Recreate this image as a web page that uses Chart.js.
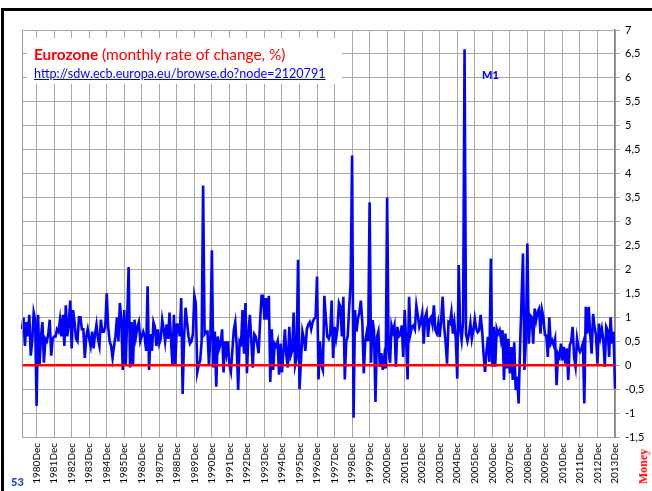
<!DOCTYPE html>
<html>
<head>
<meta charset="utf-8">
<script src="https://cdn.jsdelivr.net/npm/chart.js@4/dist/chart.umd.min.js"></script>
<style>
  html, body { margin: 0; padding: 0; background: #fff; }
  #wrap { position: relative; width: 652px; height: 491px; overflow: hidden; }
  #c { position: absolute; left: 0; top: 0; }
  #frameTop { position: absolute; left: 1px; top: 8px; width: 660px; height: 3px; background: #000; }
  #frameLeft { position: absolute; left: 1px; top: 8px; width: 3px; height: 500px; background: #000; }
  #titlebox { position: absolute; left: 27px; top: 38px; width: 315px; height: 46px; background: #fff; }
  #t1 { position: absolute; left: 7px; top: 7px; font-family: Lato, "Open Sans", sans-serif; font-size: 15.4px; color: #ff0000; white-space: nowrap; }
  #t1 b { font-weight: 700; }
  #t2 { position: absolute; left: 7px; top: 28px; font-family: Lato, "Open Sans", sans-serif; font-size: 12.6px; color: #0000ff; text-decoration: underline; white-space: nowrap; }
  #m1 { position: absolute; left: 482px; top: 68px; font-family: Lato, sans-serif; font-weight: 900; font-size: 11px; color: #0000ff; }
  #n53 { position: absolute; left: 11px; top: 475px; font-family: Lato, sans-serif; font-weight: 900; font-size: 11px; color: #1f3fbf; }
  #money { position: absolute; left: 626px; top: 459px; font-family: "Liberation Serif", serif; font-weight: 700; font-size: 12px; color: #ff0000; transform: rotate(-90deg); transform-origin: center center; white-space: nowrap; }
</style>
</head>
<body>
<div id="wrap">
  <canvas id="c" width="652" height="491"></canvas>
  <div id="titlebox">
    <div id="t1"><b>Eurozone</b> (monthly rate of change, %)</div>
    <div id="t2">http://sdw.ecb.europa.eu/browse.do?node=2120791</div>
  </div>
  <div id="m1">M1</div>
  <div id="n53">53</div>
  <div id="money">Money</div>
  <div id="frameTop"></div>
  <div id="frameLeft"></div>
</div>
<script>
// Monthly rate of change of M1 (%), Eurozone. 1980 starts in February.
const y1980 = [0.75, 1.0, 0.4, 0.9, 0.6, 1.05, 0.2, 0.5, 1.1, 0.95, -0.85];
const y1981 = [1.05, 0.0, 0.6, 0.9, 0.05, 0.55, 0.5, 0.65, 0.95, 0.2, 0.55, 0.6];
const y1982 = [0.6, 0.75, 0.7, 0.95, 0.6, 1.05, 0.4, 1.25, 0.6, 0.85, 1.35, 0.35];
const y1983 = [1.15, 0.9, 0.55, 0.5, 1.0, 1.0, 0.75, 0.75, 0.15, 0.6, 0.75, 0.55];
const y1984 = [0.4, 0.7, 0.35, 0.65, 0.85, 0.55, 0.4, 0.95, 0.7, 0.7, 0.8, 1.5];
const y1985 = [0.8, 0.5, 0.4, 0.15, 0.4, 0.6, 1.0, 0.5, 1.3, 0.95, -0.1, 1.15];
const y1986 = [0.0, 0.95, 2.05, -0.05, 0.9, 0.0, 0.95, 0.6, 0.8, 0.9, 0.5, 0.6];
const y1987 = [0.7, 0.6, 0.3, 1.65, -0.1, 0.65, 0.3, 0.9, 0.8, 0.4, 0.75, 0.45];
const y1988 = [0.55, 0.95, 0.75, 0.5, 0.85, 0.55, 1.1, 0.55, 0.0, 1.05, 0.0, 0.85];
const y1989 = [0.85, 0.6, 1.4, -0.6, 0.6, 1.2, 0.9, 0.6, 0.45, 0.5, 0.65, 1.45];
const y1990 = [1.3, -0.15, 0.0, 0.1, 0.5, 3.75, 0.65, 0.7, 0.7, 0.0, 0.6, 2.4];
const y1991 = [-0.05, 0.7, -0.45, 0.6, 0.35, 0.45, 0.75, -0.15, 0.5, 0.25, 0.5, 0.0];
const y1992 = [-0.14, 0.3, 0.73, 0.9, 0.4, -0.52, 0.5, 0.45, 1.15, 0.24, 1.3, -0.17];
const y1993 = [0.65, 1.05, 0.5, -0.05, 0.65, 0.6, 0.45, 0.25, 0.9, 1.45, 1.45, 0.95];
const y1994 = [1.4, 0.95, 1.45, -0.35, 0.75, -0.1, 0.45, 0.4, 0.5, -0.2, 0.45, -0.15];
const y1995 = [0.3, 0.75, 0.2, -0.05, 0.8, 0.2, 0.3, 1.1, 0.0, 0.15, 2.2, -0.5];
const y1996 = [0.1, 0.7, 0.55, 0.3, 0.75, 0.85, 0.9, 0.75, 0.9, 0.97, 1.0, 1.85];
const y1997 = [-0.3, 0.5, 0.0, -0.1, 1.45, 1.0, 0.6, 0.55, 0.65, 1.35, 0.15, 0.8];
const y1998 = [0.55, 0.77, 1.3, 1.22, 0.6, 1.43, -0.3, 0.5, 0.6, 1.2, 1.7, 4.38];
const y1999 = [-1.1, 1.15, 0.7, 0.97, 1.1, 1.35, 0.9, -0.17, 0.5, 0.68, 0.5, 3.4];
const y2000 = [0.05, 0.94, 0.73, -0.77, 0.59, 0.7, -0.03, 0.25, -0.1, 0.17, -0.07, 3.5];
const y2001 = [0.3, 0.05, 0.83, 0.7, 0.83, -0.03, 0.8, 0.6, 0.63, 0.83, 0.17, 1.15];
const y2002 = [0.52, -0.3, 1.43, 0.66, 0.8, 0.83, 0.75, 1.25, 1.04, 0.8, 0.9, 1.08];
const y2003 = [0.45, 1.0, 1.1, 0.59, 0.95, 1.0, 0.85, 1.25, 0.73, 0.66, 0.87, 0.59];
const y2004 = [0.94, 1.43, 0.8, 0.5, 0.03, 0.9, 0.87, 1.1, 0.66, 0.9, 0.55, -0.28];
const y2005 = [2.09, 0.75, 0.52, 0.9, 6.6, 0.65, 0.5, 0.65, 0.88, 0.55, 0.73, 0.97];
const y2006 = [0.76, 0.69, 0.73, 1.05, 0.73, 0.24, -0.14, 0.28, 0.59, 0.07, 2.23, -0.03];
const y2007 = [0.8, -0.03, 0.76, 0.66, 0.73, 0.52, 0.73, -0.31, 0.66, -0.07, 0.55, -0.17];
const y2008 = [0.38, -0.31, 0.48, -0.52, -0.24, -0.8, 0.38, 1.35, 2.33, -0.1, 0.52, 2.54];
const y2009 = [0.45, 1.04, 1.0, 0.45, 1.18, 0.94, 1.11, 1.18, 0.66, 1.15, 1.0, 0.63];
const y2010 = [0.62, 0.17, 1.0, 0.45, 0.52, 0.42, 0.55, -0.42, 0.24, 0.17, 0.45, 0.1];
const y2011 = [0.38, 0.03, 0.35, -0.31, 0.42, 0.49, 0.8, 0.17, -0.03, 0.55, 0.35, 0.28];
const y2012 = [0.35, 0.45, -0.8, 1.22, 0.66, 1.22, 0.66, 0.24, 1.07, 0.8, 0.62, 0.03];
const y2013 = [0.87, 0.59, 0.76, 0.52, -0.03, 0.8, 0.73, 0.17, 1.0, 0.45, 0.7, -0.49];

const monthNames = ['Jan','Feb','Mar','Apr','May','Jun','Jul','Aug','Sep','Oct','Nov','Dec'];
const years = [1980,1981,1982,1983,1984,1985,1986,1987,1988,1989,1990,1991,1992,1993,1994,1995,1996,
               1997,1998,1999,2000,2001,2002,2003,2004,2005,2006,2007,2008,2009,2010,2011,2012,2013];
const yearValues = [y1980,y1981,y1982,y1983,y1984,y1985,y1986,y1987,y1988,y1989,y1990,y1991,y1992,
                    y1993,y1994,y1995,y1996,y1997,y1998,y1999,y2000,y2001,y2002,y2003,y2004,y2005,
                    y2006,y2007,y2008,y2009,y2010,y2011,y2012,y2013];
const yTicks = [-1.5,-1,-0.5,0,0.5,1,1.5,2,2.5,3,3.5,4,4.5,5,5.5,6,6.5,7];
const xTickLabels = years.map(y => y + 'Dec');

const categories = [];
const m1Values = [];
years.forEach((yr, i) => {
  const vals = yearValues[i];
  const startMonth = 12 - vals.length;
  vals.forEach((v, j) => {
    categories.push(yr + monthNames[startMonth + j]);
    m1Values.push(v);
  });
});

const zeroLine = [{x: categories[0], y: 0}, {x: categories[categories.length - 1], y: 0}];

const frameBorder = {
  id: 'plotBorder',
  afterDraw(chart) {
    const a = chart.chartArea, ctx = chart.ctx;
    ctx.save();
    ctx.strokeStyle = '#9a9a9a';
    ctx.lineWidth = 1;
    ctx.beginPath();
    ctx.moveTo(Math.round(a.left) + 0.5, a.top);
    ctx.lineTo(Math.round(a.left) + 0.5, a.bottom);
    ctx.stroke();
    ctx.restore();
  }
};

new Chart(document.getElementById('c'), {
  type: 'line',
  data: {
    labels: categories,
    datasets: [
      { label: 'zero', data: zeroLine, borderColor: '#ff0000', borderWidth: 2.5, pointRadius: 0, fill: false },
      { label: 'M1', data: m1Values, borderColor: '#0000ff', borderWidth: 2.6, pointRadius: 0, tension: 0, fill: false }
    ]
  },
  options: {
    responsive: false,
    animation: false,
    events: [],
    layout: { padding: { left: 22, top: 30, right: 0, bottom: 0 } },
    plugins: { legend: { display: false }, tooltip: { enabled: false }, title: { display: false } },
    scales: {
      x: {
        type: 'category',
        offset: false,
        grid: { color: '#a8a8a8', lineWidth: 1, drawTicks: false },
        border: { display: true, color: '#a8a8a8' },
        ticks: {
          autoSkip: false, minRotation: 90, maxRotation: 90, padding: 6,
          color: '#000', font: { family: 'Lato, "Open Sans", sans-serif', size: 10 },
          callback: function(value) {
            const lab = this.getLabelForValue(value);
            return xTickLabels.includes(lab) ? lab : null;
          }
        },
        afterFit(scale) { scale.height = 54; }
      },
      y: {
        position: 'right',
        min: -1.5, max: 7,
        afterBuildTicks(scale) { scale.ticks = yTicks.map(v => ({ value: v })); },
        grid: { color: '#a8a8a8', lineWidth: 1, tickLength: 5 },
        border: { display: true, color: '#868686', width: 1.5 },
        ticks: {
          padding: 5, color: '#000',
          font: { family: 'Lato, "Open Sans", sans-serif', size: 11 },
          callback: v => String(v).replace('.', ',')
        },
        afterFit(scale) { scale.width = 37; }
      }
    }
  },
  plugins: [frameBorder]
});
</script>
</body>
</html>
